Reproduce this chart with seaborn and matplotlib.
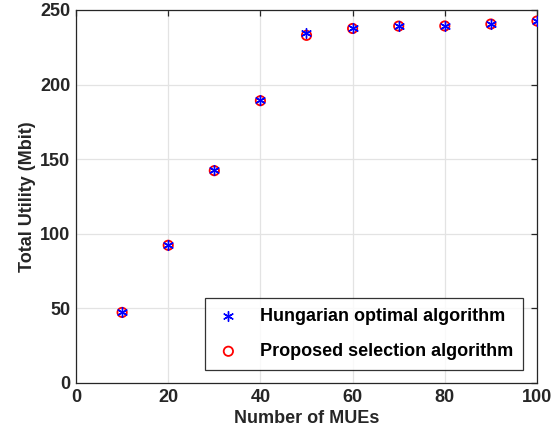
import matplotlib
matplotlib.use("Agg")
import matplotlib.pyplot as plt
import seaborn as sns
import pandas as pd

num_mues = [10, 20, 30, 40, 50, 60, 70, 80, 90, 100]
hungarian = [47.5, 92.5, 142.5, 189.5, 234.8, 238.0, 239.6, 239.5, 240.8, 242.8]
proposed = [47.3, 92.3, 142.3, 189.2, 233.0, 237.6, 239.2, 239.3, 240.6, 242.6]

sns.set_theme(style="white")
plt.rcParams['font.family'] = ['Liberation Sans', 'DejaVu Sans']

df = pd.DataFrame({"x": num_mues, "h": hungarian, "p": proposed})

fig = plt.figure(figsize=(5.59, 4.38), dpi=100)
ax = fig.add_axes([0.136, 0.1256, 0.8246, 0.8516])

sns.scatterplot(data=df, x="x", y="h", ax=ax, marker=(6, 2, 0), s=50,
                color="#0000ff", linewidth=1.0, label="Hungarian optimal algorithm", zorder=4)
sns.scatterplot(data=df, x="x", y="p", ax=ax, marker="o", s=45,
                facecolors="none", edgecolor="#ff0000", linewidth=1.3,
                label="Proposed selection algorithm", zorder=3)

ax.set_xlim(0, 100)
ax.set_ylim(0, 250)
ax.set_xticks([0, 20, 40, 60, 80, 100])
ax.set_yticks([0, 50, 100, 150, 200, 250])
ax.grid(True, color="#e3e3e3", linewidth=0.9)
ax.set_axisbelow(True)
for s in ax.spines.values():
    s.set_color("#262626")
    s.set_linewidth(0.9)
ax.tick_params(direction="in", length=4, width=0.9, color="#262626",
               top=True, right=True, labelsize=13, labelcolor="#262626", pad=4)
for lbl in ax.get_xticklabels() + ax.get_yticklabels():
    lbl.set_fontweight("bold")
ax.set_xlabel("Number of MUEs", fontsize=13, fontweight="bold", color="#262626", labelpad=3)
ax.set_ylabel("Total Utility (Mbit)", fontsize=13, fontweight="bold", color="#262626", labelpad=3)

leg = ax.legend(loc="lower right", bbox_to_anchor=(0.97, 0.035), frameon=True,
                fancybox=False, edgecolor="black", fontsize=13,
                handlelength=1.5, handletextpad=1.0, borderpad=0.55,
                labelspacing=1.0, borderaxespad=0.0)
leg.get_frame().set_linewidth(0.9)
for t in leg.get_texts():
    t.set_fontweight("bold")
    t.set_color("black")

fig.savefig("out.png", dpi=100)
